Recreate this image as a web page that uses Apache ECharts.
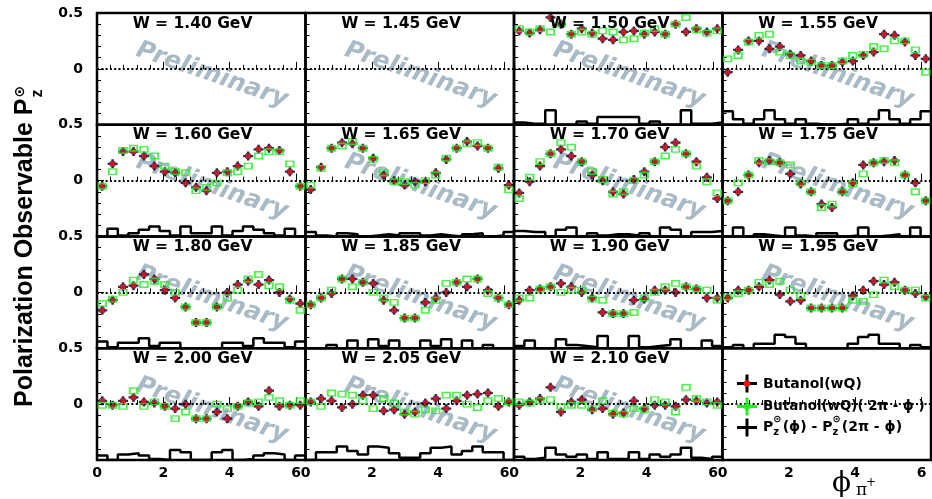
<!DOCTYPE html>
<html>
<head>
<meta charset="utf-8">
<title>Polarization Observable Pz</title>
<script src="https://cdn.jsdelivr.net/npm/echarts@6/dist/echarts.min.js"></script>
<style>
  html, body { margin: 0; padding: 0; background: #fff; }
  #chart { width: 932px; height: 499px; }
</style>
</head>
<body>
<div id="chart"></div>
<script>
// ---- phi binning (rad): 20 bins over [0, 2pi] ----
const PHI_CENTRES = [0.157, 0.471, 0.785, 1.100, 1.414, 1.728, 2.042, 2.356, 2.670, 2.985,
                     3.299, 3.613, 3.927, 4.241, 4.555, 4.869, 5.184, 5.498, 5.812, 6.126];
const PHI_EDGES = [0, 0.314, 0.628, 0.942, 1.257, 1.571, 1.885, 2.199, 2.513, 2.827, 3.142,
                   3.456, 3.770, 4.084, 4.398, 4.712, 5.027, 5.341, 5.655, 5.969, 6.283];

// ---- W bins (GeV), one panel each ----
const W_BINS = ['1.40', '1.45', '1.50', '1.55', '1.60', '1.65', '1.70', '1.75',
                '1.80', '1.85', '1.90', '1.95', '2.00', '2.05', '2.10'];

// ---- Butanol(wQ): P_z(phi) ----
const pzW150 = [0.34, 0.32, 0.35, 0.46, 0.40, 0.31, 0.36, 0.32, 0.27, 0.26, 0.33, 0.34, 0.31, 0.33, 0.31, 0.40, 0.33, 0.36, 0.33, 0.36];
const pzW155 = [-0.03, 0.17, 0.25, 0.25, 0.18, 0.20, 0.13, 0.12, 0.07, 0.03, 0.03, 0.06, 0.07, 0.12, 0.15, 0.31, 0.30, 0.24, 0.12, 0.09];
const pzW160 = [-0.05, 0.15, 0.26, 0.26, 0.22, 0.13, 0.08, 0.07, -0.02, -0.06, -0.09, 0.07, 0.08, 0.13, 0.22, 0.28, 0.29, 0.27, 0.08, -0.05];
const pzW165 = [-0.08, 0.12, 0.29, 0.34, 0.33, 0.29, 0.20, 0.05, 0.00, -0.04, -0.01, -0.01, 0.07, 0.19, 0.29, 0.35, 0.31, 0.29, 0.11, -0.04];
const pzW170 = [-0.11, -0.01, 0.13, 0.24, 0.28, 0.22, 0.17, 0.05, 0.00, -0.10, -0.12, 0.01, 0.08, 0.17, 0.30, 0.34, 0.24, 0.17, 0.03, -0.16];
const pzW175 = [-0.18, -0.10, 0.05, 0.16, 0.18, 0.16, 0.06, -0.03, -0.10, -0.21, -0.24, -0.10, -0.02, 0.14, 0.16, 0.17, 0.18, 0.05, -0.02, -0.18];
const pzW180 = [-0.16, -0.07, 0.05, 0.06, 0.16, 0.12, 0.02, -0.05, -0.13, -0.27, -0.27, -0.13, 0.00, 0.07, 0.10, 0.07, 0.11, 0.00, -0.06, -0.10];
const pzW185 = [-0.11, -0.05, -0.01, 0.12, 0.12, 0.09, 0.08, -0.07, -0.16, -0.23, -0.23, -0.09, -0.05, 0.00, 0.09, 0.05, 0.12, 0.02, -0.05, -0.11];
const pzW190 = [-0.07, 0.02, 0.03, 0.05, 0.08, 0.05, 0.00, -0.05, -0.18, -0.19, -0.19, -0.07, -0.06, 0.02, 0.02, 0.00, 0.05, 0.03, -0.05, -0.05];
const pzW195 = [-0.05, 0.02, 0.02, 0.05, 0.11, -0.02, -0.08, -0.07, -0.14, -0.14, -0.14, -0.14, -0.03, 0.02, 0.10, 0.07, 0.09, 0.02, -0.01, -0.04];
const pzW200 = [0.03, -0.01, 0.03, 0.06, 0.02, 0.01, -0.02, -0.04, 0.00, -0.13, -0.13, -0.07, -0.13, -0.02, 0.02, -0.02, 0.12, -0.02, -0.01, -0.01];
const pzW205 = [0.02, 0.05, 0.03, -0.03, 0.00, 0.08, 0.08, -0.06, -0.05, -0.09, -0.07, 0.01, 0.05, -0.04, 0.03, 0.08, 0.09, 0.10, -0.02, 0.02];
const pzW210 = [-0.01, 0.02, 0.05, 0.15, -0.07, 0.02, 0.04, -0.05, -0.04, -0.09, -0.08, 0.03, -0.04, -0.01, -0.01, -0.02, 0.04, 0.03, 0.01, 0.02];

// ---- Butanol(wQ) at (2pi - phi) ----
const pzMirW150 = [0.36, 0.33, 0.36, 0.33, 0.40, 0.31, 0.33, 0.31, 0.34, 0.33, 0.26, 0.27, 0.32, 0.36, 0.31, 0.40, 0.46, 0.35, 0.32, 0.34];
const pzMirW155 = [0.09, 0.12, 0.24, 0.30, 0.31, 0.15, 0.12, 0.07, 0.06, 0.03, 0.03, 0.07, 0.12, 0.13, 0.20, 0.18, 0.25, 0.25, 0.17, -0.03];
const pzMirW160 = [-0.05, 0.08, 0.27, 0.29, 0.28, 0.22, 0.13, 0.08, 0.07, -0.09, -0.06, -0.02, 0.07, 0.08, 0.13, 0.22, 0.26, 0.26, 0.15, -0.05];
const pzMirW165 = [-0.04, 0.11, 0.29, 0.31, 0.35, 0.29, 0.19, 0.07, -0.01, -0.01, -0.04, 0.00, 0.05, 0.20, 0.29, 0.33, 0.34, 0.29, 0.12, -0.08];
const pzMirW170 = [-0.16, 0.03, 0.17, 0.24, 0.34, 0.30, 0.17, 0.08, 0.01, -0.12, -0.10, 0.00, 0.05, 0.17, 0.22, 0.28, 0.24, 0.13, -0.01, -0.11];
const pzMirW175 = [-0.18, -0.02, 0.05, 0.18, 0.17, 0.16, 0.14, -0.02, -0.10, -0.24, -0.21, -0.10, -0.03, 0.06, 0.16, 0.18, 0.16, 0.05, -0.10, -0.18];
const pzMirW180 = [-0.10, -0.06, 0.00, 0.11, 0.07, 0.10, 0.07, 0.00, -0.13, -0.27, -0.27, -0.13, -0.05, 0.02, 0.12, 0.16, 0.06, 0.05, -0.07, -0.16];
const pzMirW185 = [-0.11, -0.05, 0.02, 0.12, 0.05, 0.09, 0.00, -0.05, -0.09, -0.23, -0.23, -0.16, -0.07, 0.08, 0.09, 0.12, 0.12, -0.01, -0.05, -0.11];
const pzMirW190 = [-0.05, -0.05, 0.03, 0.05, 0.00, 0.02, 0.02, -0.06, -0.07, -0.19, -0.19, -0.18, -0.05, 0.00, 0.05, 0.08, 0.05, 0.03, 0.02, -0.07];
const pzMirW195 = [-0.04, -0.01, 0.02, 0.09, 0.07, 0.10, 0.02, -0.03, -0.14, -0.14, -0.14, -0.14, -0.07, -0.08, -0.02, 0.11, 0.05, 0.02, 0.02, -0.05];
const pzMirW200 = [-0.01, -0.01, -0.02, 0.12, -0.02, 0.02, -0.02, -0.13, -0.07, -0.13, -0.13, 0.00, -0.04, -0.02, 0.01, 0.02, 0.06, 0.03, -0.01, 0.03];
const pzMirW205 = [0.02, -0.02, 0.10, 0.09, 0.08, 0.03, -0.04, 0.05, 0.01, -0.07, -0.09, -0.05, -0.06, 0.08, 0.08, 0.00, -0.03, 0.03, 0.05, 0.02];
const pzMirW210 = [0.02, 0.01, 0.03, 0.04, -0.02, -0.01, -0.01, -0.04, 0.03, -0.08, -0.09, -0.04, -0.05, 0.04, 0.02, -0.07, 0.15, 0.05, 0.02, -0.01];

// ---- |P_z(phi) - P_z(2pi - phi)|, drawn up from the bottom of each panel ----
const dPzW150 = [0.02, 0.01, 0.01, 0.13, 0.00, 0.00, 0.03, 0.01, 0.07, 0.07, 0.07, 0.07, 0.01, 0.03, 0.00, 0.00, 0.13, 0.01, 0.01, 0.02];
const dPzW155 = [0.12, 0.05, 0.01, 0.05, 0.13, 0.05, 0.01, 0.05, 0.01, 0.00, 0.00, 0.01, 0.05, 0.01, 0.05, 0.13, 0.05, 0.01, 0.05, 0.12];
const dPzW160 = [0.00, 0.07, 0.01, 0.03, 0.06, 0.09, 0.05, 0.01, 0.09, 0.03, 0.03, 0.09, 0.01, 0.05, 0.09, 0.06, 0.03, 0.01, 0.07, 0.00];
const dPzW165 = [0.04, 0.01, 0.00, 0.03, 0.02, 0.00, 0.01, 0.02, 0.01, 0.03, 0.03, 0.01, 0.02, 0.01, 0.00, 0.02, 0.03, 0.00, 0.01, 0.04];
const dPzW170 = [0.05, 0.04, 0.04, 0.00, 0.06, 0.08, 0.00, 0.03, 0.01, 0.02, 0.02, 0.01, 0.03, 0.00, 0.08, 0.06, 0.00, 0.04, 0.04, 0.05];
const dPzW175 = [0.00, 0.08, 0.00, 0.02, 0.01, 0.00, 0.08, 0.01, 0.00, 0.03, 0.03, 0.00, 0.01, 0.08, 0.00, 0.01, 0.02, 0.00, 0.08, 0.00];
const dPzW180 = [0.06, 0.01, 0.05, 0.05, 0.09, 0.02, 0.05, 0.05, 0.00, 0.00, 0.00, 0.00, 0.05, 0.05, 0.02, 0.09, 0.05, 0.05, 0.01, 0.06];
const dPzW185 = [0.00, 0.00, 0.03, 0.00, 0.07, 0.00, 0.08, 0.02, 0.07, 0.00, 0.00, 0.07, 0.02, 0.08, 0.00, 0.07, 0.00, 0.03, 0.00, 0.00];
const dPzW190 = [0.02, 0.07, 0.00, 0.00, 0.08, 0.03, 0.02, 0.01, 0.11, 0.00, 0.00, 0.11, 0.01, 0.02, 0.03, 0.08, 0.00, 0.00, 0.07, 0.02];
const dPzW195 = [0.01, 0.03, 0.00, 0.04, 0.04, 0.12, 0.10, 0.04, 0.00, 0.00, 0.00, 0.00, 0.04, 0.10, 0.12, 0.04, 0.04, 0.00, 0.03, 0.01];
const dPzW200 = [0.04, 0.00, 0.05, 0.06, 0.04, 0.01, 0.00, 0.09, 0.07, 0.00, 0.00, 0.07, 0.09, 0.00, 0.01, 0.04, 0.06, 0.05, 0.00, 0.04];
const dPzW205 = [0.00, 0.07, 0.07, 0.12, 0.08, 0.05, 0.12, 0.11, 0.06, 0.02, 0.02, 0.06, 0.11, 0.12, 0.05, 0.08, 0.12, 0.07, 0.07, 0.00];
const dPzW210 = [0.03, 0.01, 0.02, 0.11, 0.05, 0.03, 0.05, 0.01, 0.07, 0.01, 0.01, 0.07, 0.01, 0.05, 0.03, 0.05, 0.11, 0.02, 0.01, 0.03];

const DATA_BY_W = {
  '1.50': [pzW150, pzMirW150, dPzW150], '1.55': [pzW155, pzMirW155, dPzW155],
  '1.60': [pzW160, pzMirW160, dPzW160], '1.65': [pzW165, pzMirW165, dPzW165],
  '1.70': [pzW170, pzMirW170, dPzW170], '1.75': [pzW175, pzMirW175, dPzW175],
  '1.80': [pzW180, pzMirW180, dPzW180], '1.85': [pzW185, pzMirW185, dPzW185],
  '1.90': [pzW190, pzMirW190, dPzW190], '1.95': [pzW195, pzMirW195, dPzW195],
  '2.00': [pzW200, pzMirW200, dPzW200], '2.05': [pzW205, pzMirW205, dPzW205],
  '2.10': [pzW210, pzMirW210, dPzW210]
};

// ---- layout / style ----
const LEFT = 97, TOP = 13, CELL_W = 208.5, CELL_H = 111.75;
const SANS = '"DejaVu Sans", sans-serif';
const RED = '#ee1111', GREEN = '#22ee22', WATERMARK = '#a9bac7';
const CROSS = 'path://M0,3.75H10V6.25H0Z M3.75,0H6.25V10H3.75Z';

const measureCtx = document.createElement('canvas').getContext('2d');
function textWidth(text, font) { measureCtx.font = font; return measureCtx.measureText(text).width; }
function label(text, x, y, font, align) {
  return {
    type: 'text', x: x, y: y, z: 100, silent: true,
    style: { text: text, font: font, fill: '#000', align: align || 'left', verticalAlign: 'middle' }
  };
}

const grids = [], xAxes = [], yAxes = [], series = [], graphics = [];

for (let p = 0; p < 16; p++) {
  const c = p % 4, r = Math.floor(p / 4);
  const left = LEFT + c * CELL_W, top = TOP + r * CELL_H;

  grids.push({
    left: left, top: top, width: CELL_W, height: CELL_H,
    show: true, borderColor: '#000', borderWidth: 2.5, backgroundColor: 'transparent',
    containLabel: false, outerBoundsMode: 'none'
  });

  xAxes.push({
    type: 'value', gridIndex: p, min: 0, max: 2 * Math.PI, interval: 2,
    axisLine: { show: false },
    axisTick: { show: true, inside: true, length: 7, lineStyle: { color: '#000', width: 1 } },
    minorTick: { show: true, splitNumber: 5, length: 4, lineStyle: { color: '#000', width: 1 } },
    splitLine: { show: false }, minorSplitLine: { show: false },
    axisLabel: {
      show: r === 3, showMinLabel: true, showMaxLabel: false, margin: 6,
      color: '#000', fontFamily: SANS, fontWeight: 'bold', fontSize: 14,
      formatter: v => String(Math.round(v))
    }
  });

  yAxes.push({
    type: 'value', gridIndex: p, min: -0.5, max: 0.5, interval: 0.5,
    axisLine: { show: false },
    axisTick: { show: true, inside: true, length: 7, lineStyle: { color: '#000', width: 1 } },
    minorTick: { show: true, splitNumber: 5, length: 4, lineStyle: { color: '#000', width: 1 } },
    splitLine: { show: false }, minorSplitLine: { show: false },
    axisLabel: {
      show: c === 0, margin: 14, color: '#000', fontFamily: SANS, fontWeight: 'bold', fontSize: 14,
      showMinLabel: true, showMaxLabel: true,
      formatter: v => (v > 0.25 ? '0.5' : (Math.abs(v) < 1e-9 ? '0' : ''))
    }
  });
  // second scale for the difference histogram, measured from the panel floor
  yAxes.push({ type: 'value', gridIndex: p, min: 0, max: 1, show: false });

  // dotted zero line
  series.push({
    type: 'line', xAxisIndex: p, yAxisIndex: 2 * p, data: [], silent: true, z: 2,
    markLine: {
      silent: true, symbol: ['none', 'none'], label: { show: false }, animation: false,
      lineStyle: { color: '#000', width: 2, type: [2, 2.3] },
      emphasis: { disabled: true },
      data: [{ yAxis: 0 }]
    }
  });

  if (p < W_BINS.length) {
    const w = W_BINS[p];
    graphics.push(label('W = ' + w + ' GeV', left + 95.5, top + 10.5, 'bold 15.5px ' + SANS, 'center'));
    graphics.push({
      type: 'text', x: left + 115, y: top + 62, rotation: -19 * Math.PI / 180, z: 0, silent: true,
      style: { text: 'Preliminary', font: 'italic bold 24.5px ' + SANS, fill: WATERMARK, align: 'center', verticalAlign: 'middle' }
    });

    const d = DATA_BY_W[w];
    if (d) {
      const pz = d[0], mir = d[1], diff = d[2];
      const histPts = PHI_EDGES.map((e, i) => [e, diff[Math.min(i, diff.length - 1)]]);
      series.push({
        type: 'line', xAxisIndex: p, yAxisIndex: 2 * p + 1, data: histPts, step: 'end',
        symbol: 'none', showSymbol: false, silent: true, z: 2,
        lineStyle: { color: '#000', width: 2.5 }
      });
      const pts = PHI_CENTRES.map((x, i) => [x, pz[i]]);
      series.push({
        type: 'scatter', xAxisIndex: p, yAxisIndex: 2 * p, data: pts, silent: true, z: 3,
        symbol: CROSS, symbolSize: [10, 9], itemStyle: { color: '#000' }
      });
      series.push({
        type: 'scatter', xAxisIndex: p, yAxisIndex: 2 * p, data: pts, silent: true, z: 4,
        symbol: 'circle', symbolSize: 6,
        itemStyle: { color: RED, borderColor: '#2b1b80', borderWidth: 0.8 }
      });
      series.push({
        type: 'scatter', xAxisIndex: p, yAxisIndex: 2 * p,
        data: PHI_CENTRES.map((x, i) => [x, mir[i]]), silent: true, z: 5,
        symbol: 'rect', symbolSize: [7.5, 5.5],
        itemStyle: { color: 'rgba(0,0,0,0)', borderColor: GREEN, borderWidth: 1.6 }
      });
    }
  }
}

// ---- y-axis title (rotated, reads bottom to top) ----
const yTitleFont = 'bold 25px "Liberation Sans", Arial, sans-serif';
const yTitleMain = 'Polarization Observable P';
const yTitleW = textWidth(yTitleMain, yTitleFont);
graphics.push({
  type: 'group', x: 25.5, y: 407, rotation: Math.PI / 2, silent: true,
  children: [
    { type: 'text', x: 0, y: 0, z: 100, style: { text: yTitleMain, font: yTitleFont, fill: '#000', align: 'left', verticalAlign: 'middle' } },
    { type: 'text', x: yTitleW + 1, y: 12, z: 100, style: { text: 'z', font: 'bold 16px "Liberation Sans", Arial, sans-serif', fill: '#000', align: 'left', verticalAlign: 'middle' } },
    { type: 'text', x: yTitleW + 1, y: -5.5, z: 100, style: { text: '\u2299', font: 'bold 14px ' + SANS, fill: '#000', align: 'left', verticalAlign: 'middle' } }
  ]
});

// ---- x-axis title: phi_{pi+} ----
graphics.push(label('\u03D5', 832, 484, '28px "DejaVu Serif", serif'));
graphics.push(label('\u03C0', 856, 491, '17px "DejaVu Serif", serif'));
graphics.push(label('+', 866, 483, '12px "DejaVu Serif", serif'));

// ---- legend (last panel) ----
const LEG_X = 763, LEG_FONT = 'bold 14px ' + SANS, SMALL = 'bold 10px ' + SANS;
function legendCross(cy, color, dotColor) {
  graphics.push({ type: 'rect', z: 100, silent: true, shape: { x: 737, y: cy - 1.5, width: 20, height: 3 }, style: { fill: color } });
  graphics.push({ type: 'rect', z: 100, silent: true, shape: { x: 745.5, y: cy - 9, width: 3, height: 18 }, style: { fill: color } });
  if (dotColor) {
    graphics.push({ type: 'circle', z: 101, silent: true, shape: { cx: 747, cy: cy, r: 3.2 }, style: { fill: dotColor } });
  }
}
legendCross(383.5, '#000', RED);
graphics.push(label('Butanol(wQ)', LEG_X, 384, LEG_FONT));
legendCross(406.5, GREEN, GREEN);
graphics.push(label('Butanol(wQ)( 2\u03C0 - \u03D5 )', LEG_X, 407, 'bold 13.4px ' + SANS));
legendCross(427.5, '#000', null);
(function () {
  let x = LEG_X;
  const y = 427.5;
  const supSub = () => {
    graphics.push(label('\u2299', x, y - 8, SMALL));
    graphics.push(label('z', x, y + 5, SMALL));
    x += Math.max(textWidth('\u2299', SMALL), textWidth('z', SMALL)) + 1;
  };
  graphics.push(label('P', x, y, LEG_FONT));
  x += textWidth('P', LEG_FONT);
  supSub();
  graphics.push(label('(\u03D5) - P', x, y, LEG_FONT));
  x += textWidth('(\u03D5) - P', LEG_FONT);
  supSub();
  graphics.push(label('(2\u03C0 - \u03D5)', x, y, LEG_FONT));
})();

const chart = echarts.init(document.getElementById('chart'), null, { renderer: 'canvas' });
chart.setOption({
  animation: false,
  backgroundColor: '#fff',
  grid: grids,
  xAxis: xAxes,
  yAxis: yAxes,
  series: series,
  graphic: { elements: graphics }
});
</script>
</body>
</html>
